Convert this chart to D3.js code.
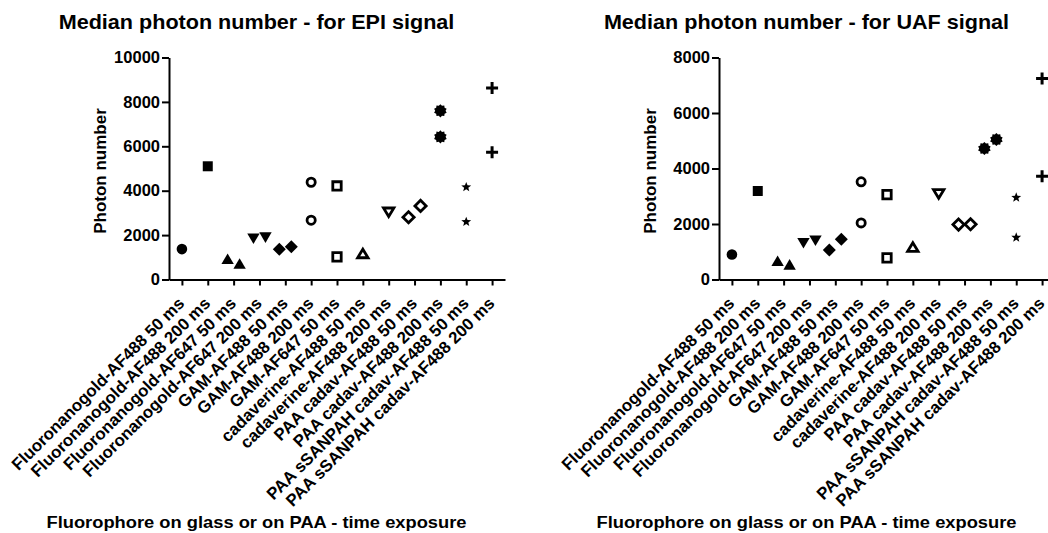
<!DOCTYPE html>
<html>
<head>
<meta charset="utf-8">
<script src="https://d3js.org/d3.v7.min.js"></script>
<style>
  body { margin: 0; background: #fff; }
  text { font-family: "Liberation Sans", Arial, sans-serif; font-weight: bold; fill: #000; }
</style>
</head>
<body>
<script>

    var categories = [
        "Fluoronanogold-AF488 50 ms",
        "Fluoronanogold-AF488 200 ms",
        "Fluoronanogold-AF647 50 ms",
        "Fluoronanogold-AF647 200 ms",
        "GAM-AF488 50 ms",
        "GAM-AF488 200 ms",
        "GAM-AF647 50 ms",
        "cadaverine-AF488 50 ms",
        "cadaverine-AF488 200 ms",
        "PAA cadav-AF488 50 ms",
        "PAA cadav-AF488 200 ms",
        "PAA sSANPAH cadav-AF488 50 ms",
        "PAA sSANPAH cadav-AF488 200 ms"
    ];

    // two replicates per condition, null = only one point shown
    var epiRep1 = [1370, 5100, 900, 1870, 1365, 4380, 4215, 1150, 3050, 2805, 6425, 4160, 8630];
    var epiRep2 = [null, null, 690, 1920, 1470, 2670, 1020, null, null, 3315, 7600, 2595, 5735];
    var uafRep1 = [900, 3190, 650, 1330, 1060, 3520, 3060, 1150, 3100, 1980, 4720, 2955, 7245];
    var uafRep2 = [null, null, 520, 1420, 1450, 2040, 780, null, null, 1990, 5045, 1515, 3725];

    var epiTicks = [0, 2000, 4000, 6000, 8000, 10000];
    var uafTicks = [0, 2000, 4000, 6000, 8000];

    var width = 1048, height = 533;

    var svg = d3.select("body").append("svg")
        .attr("width", width)
        .attr("height", height);

    var shapes = ["circle", "square", "triangle", "triangleDown", "diamond",
        "circleOpen", "squareOpen", "triangleOpen", "triangleDownOpen", "diamondOpen",
        "burst", "star", "cross"];

    function poly(p, pts) {
        p.moveTo(pts[0][0], pts[0][1]);
        for (var i = 1; i < pts.length; i++) p.lineTo(pts[i][0], pts[i][1]);
        p.closePath();
    }

    function starPts(n, ro, ri) {
        var pts = [];
        for (var i = 0; i < n * 2; i++) {
            var a = Math.PI * i / n - Math.PI / 2, r = i % 2 ? ri : ro;
            pts.push([r * Math.cos(a), r * Math.sin(a)]);
        }
        return pts;
    }

    function shapePath(kind) {
        var p = d3.path();
        switch (kind) {
            case "circle": p.arc(0, 0, 5.3, 0, 2 * Math.PI); break;
            case "square": p.rect(-5, -5, 10, 10); break;
            case "triangle": poly(p, [[0, -6], [6.2, 4.6], [-6.2, 4.6]]); break;
            case "triangleDown": poly(p, [[0, 6], [6.2, -4.6], [-6.2, -4.6]]); break;
            case "diamond": poly(p, [[0, -6.5], [6.5, 0], [0, 6.5], [-6.5, 0]]); break;
            case "circleOpen": p.arc(0, 0, 4.1, 0, 2 * Math.PI); break;
            case "squareOpen": p.rect(-4.2, -4.2, 8.4, 8.4); break;
            case "triangleOpen": poly(p, [[0, -4.8], [5.2, 3.8], [-5.2, 3.8]]); break;
            case "triangleDownOpen": poly(p, [[0, 4.8], [5.2, -3.8], [-5.2, -3.8]]); break;
            case "diamondOpen": poly(p, [[0, -5.6], [5.6, 0], [0, 5.6], [-5.6, 0]]); break;
            case "burst": poly(p, starPts(10, 6.6, 5.2)); break;
            case "star": poly(p, starPts(5, 5.2, 2.2)); break;
            case "cross": p.moveTo(-6, 0); p.lineTo(6, 0); p.moveTo(0, -6); p.lineTo(0, 6); break;
        }
        return p.toString();
    }

    function drawPanel(dx, title, rep1, rep2, ticks) {
        var g = svg.append("g").attr("transform", "translate(" + dx + ",0)");

        var x = d3.scalePoint()
            .domain(categories)
            .range([169, 505])
            .padding(0.5);

        var y = d3.scaleLinear()
            .domain([0, d3.max(ticks)])
            .range([279.5, 57.5]);

        // axes
        var yAxis = g.append("g")
            .attr("transform", "translate(169,0)")
            .call(d3.axisLeft(y).tickValues(ticks).tickFormat(d3.format("d"))
                .tickSize(7).tickSizeOuter(0).tickPadding(2));
        yAxis.selectAll("text").style("font-size", "16.5px");

        var xAxis = g.append("g")
            .attr("transform", "translate(0," + y(0) + ")")
            .call(d3.axisBottom(x).tickSize(6).tickSizeOuter(0));
        xAxis.selectAll("text")
            .style("font-size", "16.8px")
            .attr("text-anchor", "end")
            .attr("x", 0).attr("y", 0).attr("dy", null)
            .attr("transform", "translate(3,25) rotate(-45)");

        g.selectAll(".domain, .tick line")
            .attr("stroke", "#000")
            .attr("stroke-width", 2);

        // points, side by side when they would overlap
        var pts = [];
        categories.forEach(function(c, i) {
            var a = rep1[i], b = rep2[i];
            var off = 0;
            if (a != null && b != null && Math.abs(y(a) - y(b)) < 14) off = 6;
            if (a != null) pts.push({cat: c, v: a, shape: shapes[i], off: -off});
            if (b != null) pts.push({cat: c, v: b, shape: shapes[i], off: off});
        });

        g.selectAll(".pt")
            .data(pts)
            .enter().append("path")
            .attr("class", "pt")
            .attr("transform", function(d) { return "translate(" + (x(d.cat) + d.off) + "," + y(d.v) + ")"; })
            .attr("d", function(d) { return shapePath(d.shape); })
            .attr("fill", function(d) {
                if (d.shape == "cross") return "none";
                return /Open$/.test(d.shape) ? "#fff" : "#000";
            })
            .attr("stroke", function(d) { return (/Open$/.test(d.shape) || d.shape == "cross") ? "#000" : "none"; })
            .attr("stroke-width", function(d) { return d.shape == "cross" ? 3 : 2.8; });

        // titles
        g.append("text")
            .attr("transform", "translate(256.5,29) scale(1.08,1)")
            .attr("text-anchor", "middle")
            .style("font-size", "20px")
            .text(title);

        g.append("text")
            .attr("transform", "translate(106,171) rotate(-90)")
            .attr("text-anchor", "middle")
            .style("font-size", "17px")
            .text("Photon number");

        g.append("text")
            .attr("transform", "translate(256.5,528) scale(1.11,1)")
            .attr("text-anchor", "middle")
            .style("font-size", "16.5px")
            .text("Fluorophore on glass or on PAA - time exposure");
    }

    drawPanel(0, "Median photon number - for EPI signal", epiRep1, epiRep2, epiTicks);
    drawPanel(550, "Median photon number - for UAF signal", uafRep1, uafRep2, uafTicks);

</script>
</body>
</html>
